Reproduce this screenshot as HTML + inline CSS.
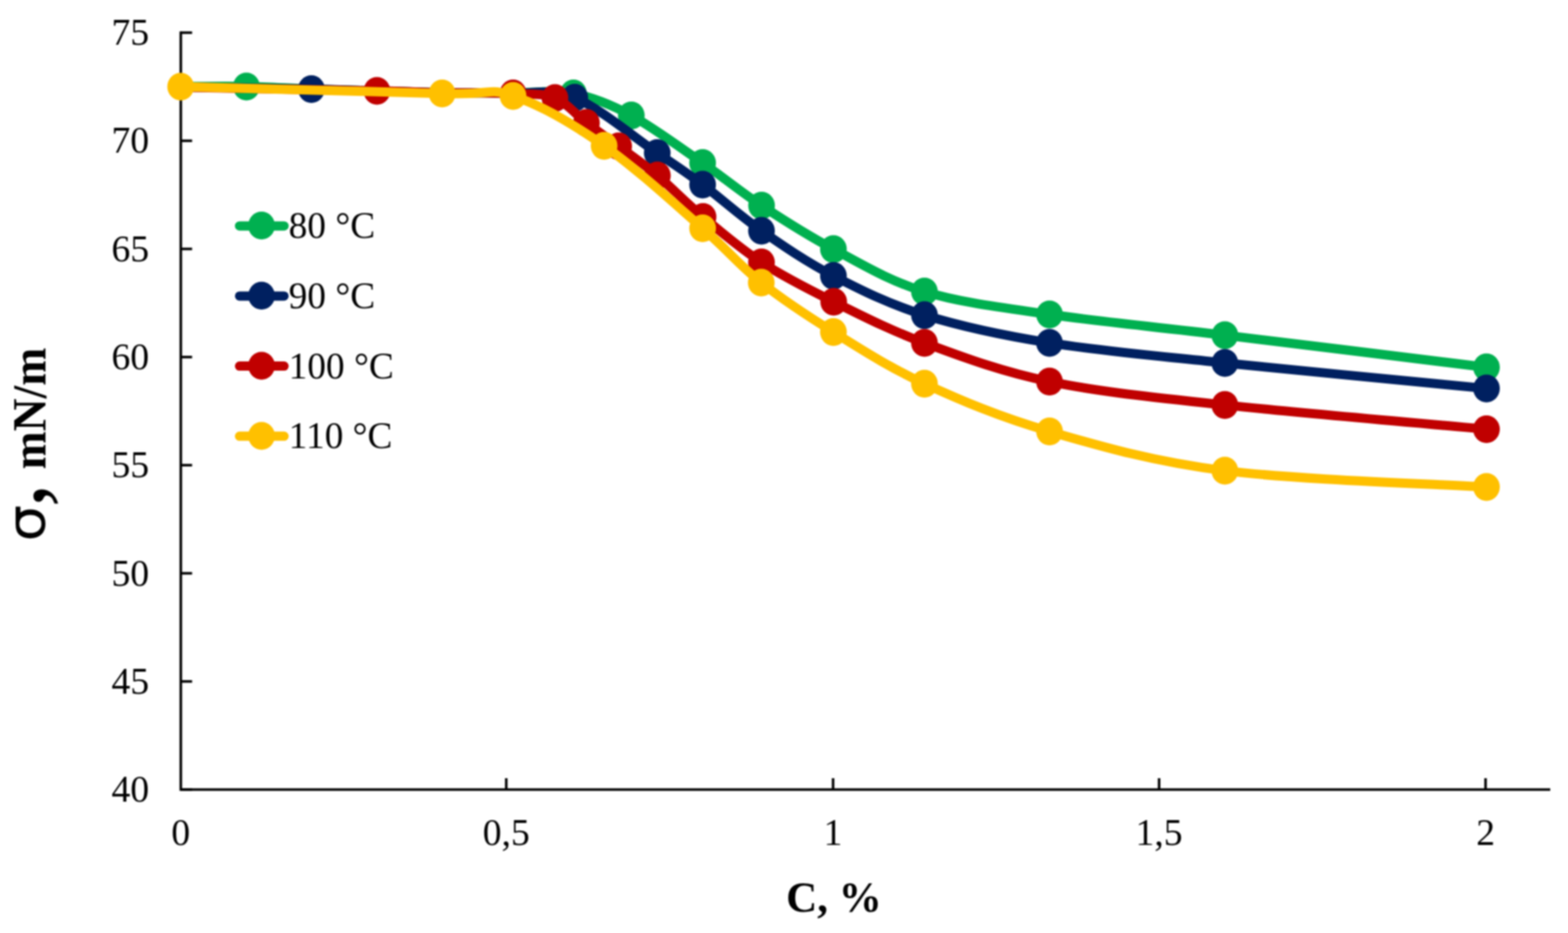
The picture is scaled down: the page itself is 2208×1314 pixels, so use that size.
<!DOCTYPE html>
<html><head><meta charset="utf-8"><style>
html,body{margin:0;padding:0;background:#fff;}
svg{display:block;}
.wrap{filter:blur(1px);}
.t{font-family:"Liberation Serif","Times New Roman",serif;font-size:53px;fill:#000;}
.tb{font-family:"Liberation Serif","Times New Roman",serif;font-weight:bold;fill:#000;}
</style></head><body>
<div class="wrap"><svg width="2208" height="1314" viewBox="0 0 2208 1314">
<rect width="2208" height="1314" fill="#fff"/>
<path d="M254.6,44.2 V1112.0 H2183" fill="none" stroke="#000" stroke-width="3.6"/>
<line x1="254.6" y1="1112.00" x2="270.5" y2="1112.00" stroke="#000" stroke-width="3.6"/>
<text x="210" y="1129.10" text-anchor="end" class="t">40</text>
<line x1="254.6" y1="959.71" x2="270.5" y2="959.71" stroke="#000" stroke-width="3.6"/>
<text x="210" y="976.81" text-anchor="end" class="t">45</text>
<line x1="254.6" y1="807.43" x2="270.5" y2="807.43" stroke="#000" stroke-width="3.6"/>
<text x="210" y="824.53" text-anchor="end" class="t">50</text>
<line x1="254.6" y1="655.14" x2="270.5" y2="655.14" stroke="#000" stroke-width="3.6"/>
<text x="210" y="672.24" text-anchor="end" class="t">55</text>
<line x1="254.6" y1="502.86" x2="270.5" y2="502.86" stroke="#000" stroke-width="3.6"/>
<text x="210" y="519.96" text-anchor="end" class="t">60</text>
<line x1="254.6" y1="350.57" x2="270.5" y2="350.57" stroke="#000" stroke-width="3.6"/>
<text x="210" y="367.67" text-anchor="end" class="t">65</text>
<line x1="254.6" y1="198.29" x2="270.5" y2="198.29" stroke="#000" stroke-width="3.6"/>
<text x="210" y="215.39" text-anchor="end" class="t">70</text>
<line x1="254.6" y1="46.00" x2="270.5" y2="46.00" stroke="#000" stroke-width="3.6"/>
<text x="210" y="63.10" text-anchor="end" class="t">75</text>
<text x="254.60" y="1190" text-anchor="middle" class="t">0</text>
<line x1="712.90" y1="1112.0" x2="712.90" y2="1096" stroke="#000" stroke-width="3.6"/>
<text x="712.90" y="1190" text-anchor="middle" class="t">0,5</text>
<line x1="1173.10" y1="1112.0" x2="1173.10" y2="1096" stroke="#000" stroke-width="3.6"/>
<text x="1173.10" y="1190" text-anchor="middle" class="t">1</text>
<line x1="1632.20" y1="1112.0" x2="1632.20" y2="1096" stroke="#000" stroke-width="3.6"/>
<text x="1632.20" y="1190" text-anchor="middle" class="t">1,5</text>
<line x1="2091.90" y1="1112.0" x2="2091.90" y2="1096" stroke="#000" stroke-width="3.6"/>
<text x="2091.90" y="1190" text-anchor="middle" class="t">2</text>
<path d="M254.50,122.00 C269.92,121.97 316.33,121.22 347.00,121.80 C377.67,122.38 407.87,124.47 438.50,125.50 C469.13,126.53 500.12,127.17 530.80,128.00 C561.48,128.83 590.65,130.05 622.60,130.50 C654.55,130.95 691.68,130.50 722.50,130.70 C753.32,130.90 779.75,126.37 807.50,131.70 C835.25,137.03 858.68,146.40 889.00,162.70 C919.32,179.00 958.83,208.37 989.40,229.50 C1019.97,250.63 1041.70,269.28 1072.40,289.50 C1103.10,309.72 1135.37,330.60 1173.60,350.80 C1211.83,371.00 1251.08,395.37 1301.80,410.70 C1352.52,426.03 1407.40,432.57 1477.90,442.80 C1548.40,453.03 1622.25,459.68 1724.80,472.10 C1827.35,484.52 2031.80,509.77 2093.20,517.30" fill="none" stroke="#00B050" stroke-width="13" stroke-linecap="round" stroke-linejoin="round"/>
<ellipse cx="347" cy="121.8" rx="18.8" ry="19.6" fill="#00B050"/>
<ellipse cx="807.5" cy="131.7" rx="18.8" ry="19.6" fill="#00B050"/>
<ellipse cx="889" cy="162.7" rx="18.8" ry="19.6" fill="#00B050"/>
<ellipse cx="989.4" cy="229.5" rx="18.8" ry="19.6" fill="#00B050"/>
<ellipse cx="1072.4" cy="289.5" rx="18.8" ry="19.6" fill="#00B050"/>
<ellipse cx="1173.6" cy="350.8" rx="18.8" ry="19.6" fill="#00B050"/>
<ellipse cx="1301.8" cy="410.7" rx="18.8" ry="19.6" fill="#00B050"/>
<ellipse cx="1477.9" cy="442.8" rx="18.8" ry="19.6" fill="#00B050"/>
<ellipse cx="1724.8" cy="472.1" rx="18.8" ry="19.6" fill="#00B050"/>
<ellipse cx="2093.2" cy="517.3" rx="18.8" ry="19.6" fill="#00B050"/>
<path d="M254.50,122.50 C285.17,123.00 392.45,124.58 438.50,125.50 C484.55,126.42 500.12,127.17 530.80,128.00 C561.48,128.83 590.65,130.00 622.60,130.50 C654.55,131.00 691.37,129.83 722.50,131.00 C753.63,132.17 775.57,123.42 809.40,137.50 C843.23,151.58 895.50,195.08 925.50,215.50 C955.50,235.92 964.93,241.75 989.40,260.00 C1013.87,278.25 1041.60,303.58 1072.30,325.00 C1103.00,346.42 1135.35,368.70 1173.60,388.50 C1211.85,408.30 1251.08,428.07 1301.80,443.80 C1352.52,459.53 1407.40,471.67 1477.90,482.90 C1548.40,494.13 1622.25,500.50 1724.80,511.20 C1827.35,521.90 2031.80,541.12 2093.20,547.10" fill="none" stroke="#002060" stroke-width="13" stroke-linecap="round" stroke-linejoin="round"/>
<ellipse cx="438.5" cy="125.5" rx="18.8" ry="19.6" fill="#002060"/>
<ellipse cx="809.4" cy="137.5" rx="18.8" ry="19.6" fill="#002060"/>
<ellipse cx="925.5" cy="215.5" rx="18.8" ry="19.6" fill="#002060"/>
<ellipse cx="989.4" cy="260" rx="18.8" ry="19.6" fill="#002060"/>
<ellipse cx="1072.3" cy="325" rx="18.8" ry="19.6" fill="#002060"/>
<ellipse cx="1173.6" cy="388.5" rx="18.8" ry="19.6" fill="#002060"/>
<ellipse cx="1301.8" cy="443.8" rx="18.8" ry="19.6" fill="#002060"/>
<ellipse cx="1477.9" cy="482.9" rx="18.8" ry="19.6" fill="#002060"/>
<ellipse cx="1724.8" cy="511.2" rx="18.8" ry="19.6" fill="#002060"/>
<ellipse cx="2093.2" cy="547.1" rx="18.8" ry="19.6" fill="#002060"/>
<path d="M254.50,122.80 C300.55,123.67 469.45,126.72 530.80,128.00 C592.15,129.28 590.65,129.90 622.60,130.50 C654.55,131.10 696.02,130.35 722.50,131.60 C748.98,132.85 764.28,131.10 781.50,138.00 C798.72,144.90 810.85,161.67 825.80,173.00 C840.75,184.33 854.55,193.63 871.20,206.00 C887.85,218.37 905.90,230.62 925.70,247.20 C945.50,263.78 965.57,285.12 990.00,305.50 C1014.43,325.88 1041.63,349.58 1072.30,369.50 C1102.97,389.42 1135.75,406.10 1174.00,425.00 C1212.25,443.90 1251.15,464.17 1301.80,482.90 C1352.45,501.63 1407.40,522.82 1477.90,537.40 C1548.40,551.98 1622.25,559.22 1724.80,570.40 C1827.35,581.58 2031.80,598.82 2093.20,604.50" fill="none" stroke="#C00000" stroke-width="13" stroke-linecap="round" stroke-linejoin="round"/>
<ellipse cx="530.8" cy="128" rx="18.8" ry="19.6" fill="#C00000"/>
<ellipse cx="722.5" cy="131.6" rx="18.8" ry="19.6" fill="#C00000"/>
<ellipse cx="781.5" cy="138" rx="18.8" ry="19.6" fill="#C00000"/>
<ellipse cx="825.8" cy="173" rx="18.8" ry="19.6" fill="#C00000"/>
<ellipse cx="871.2" cy="206" rx="18.8" ry="19.6" fill="#C00000"/>
<ellipse cx="925.7" cy="247.2" rx="18.8" ry="19.6" fill="#C00000"/>
<ellipse cx="990" cy="305.5" rx="18.8" ry="19.6" fill="#C00000"/>
<ellipse cx="1072.3" cy="369.5" rx="18.8" ry="19.6" fill="#C00000"/>
<ellipse cx="1174" cy="425" rx="18.8" ry="19.6" fill="#C00000"/>
<ellipse cx="1301.8" cy="482.9" rx="18.8" ry="19.6" fill="#C00000"/>
<ellipse cx="1477.9" cy="537.4" rx="18.8" ry="19.6" fill="#C00000"/>
<ellipse cx="1724.8" cy="570.4" rx="18.8" ry="19.6" fill="#C00000"/>
<ellipse cx="2093.2" cy="604.5" rx="18.8" ry="19.6" fill="#C00000"/>
<path d="M254.40,122.00 C315.77,123.62 544.58,129.50 622.60,131.70 C700.62,133.90 684.48,122.93 722.50,135.20 C760.52,147.47 806.22,174.25 850.70,205.30 C895.18,236.35 952.52,289.38 989.40,321.50 C1026.28,353.62 1041.30,373.65 1072.00,398.00 C1102.70,422.35 1135.30,443.88 1173.60,467.60 C1211.90,491.32 1251.08,516.97 1301.80,540.30 C1352.52,563.63 1407.40,587.17 1477.90,607.60 C1548.40,628.03 1622.25,649.87 1724.80,662.90 C1827.35,675.93 2031.80,681.98 2093.20,685.80" fill="none" stroke="#FFC000" stroke-width="13" stroke-linecap="round" stroke-linejoin="round"/>
<ellipse cx="254.4" cy="122" rx="18.8" ry="19.6" fill="#FFC000"/>
<ellipse cx="622.6" cy="131.7" rx="18.8" ry="19.6" fill="#FFC000"/>
<ellipse cx="722.5" cy="135.2" rx="18.8" ry="19.6" fill="#FFC000"/>
<ellipse cx="850.7" cy="205.3" rx="18.8" ry="19.6" fill="#FFC000"/>
<ellipse cx="989.4" cy="321.5" rx="18.8" ry="19.6" fill="#FFC000"/>
<ellipse cx="1072" cy="398" rx="18.8" ry="19.6" fill="#FFC000"/>
<ellipse cx="1173.6" cy="467.6" rx="18.8" ry="19.6" fill="#FFC000"/>
<ellipse cx="1301.8" cy="540.3" rx="18.8" ry="19.6" fill="#FFC000"/>
<ellipse cx="1477.9" cy="607.6" rx="18.8" ry="19.6" fill="#FFC000"/>
<ellipse cx="1724.8" cy="662.9" rx="18.8" ry="19.6" fill="#FFC000"/>
<ellipse cx="2093.2" cy="685.8" rx="18.8" ry="19.6" fill="#FFC000"/>
<line x1="337.3" y1="318.20" x2="400" y2="318.20" stroke="#00B050" stroke-width="13" stroke-linecap="round"/>
<ellipse cx="368.3" cy="317.70" rx="18.8" ry="19.6" fill="#00B050"/>
<text x="406.6" y="335.30" class="t" style="font-size:52.5px">80 °C</text>
<line x1="337.3" y1="416.90" x2="400" y2="416.90" stroke="#002060" stroke-width="13" stroke-linecap="round"/>
<ellipse cx="368.3" cy="416.40" rx="18.8" ry="19.6" fill="#002060"/>
<text x="406.6" y="434.00" class="t" style="font-size:52.5px">90 °C</text>
<line x1="337.3" y1="515.60" x2="400" y2="515.60" stroke="#C00000" stroke-width="13" stroke-linecap="round"/>
<ellipse cx="368.3" cy="515.10" rx="18.8" ry="19.6" fill="#C00000"/>
<text x="406.6" y="532.70" class="t" style="font-size:52.5px">100 °C</text>
<line x1="337.3" y1="614.30" x2="400" y2="614.30" stroke="#FFC000" stroke-width="13" stroke-linecap="round"/>
<ellipse cx="368.3" cy="613.80" rx="18.8" ry="19.6" fill="#FFC000"/>
<text x="406.6" y="631.40" class="t" style="font-size:52.5px">110 °C</text>
<text x="1106.9" y="1283.8" class="tb" style="font-size:60.7px">C, %</text>
<text transform="translate(63.6,661.1) rotate(-90) scale(0.952,1)" class="tb" style="font-size:67.5px">mN/m</text>
<text transform="translate(61,714.5) rotate(-90)" class="t" style="font-size:135px">,</text>
<text transform="translate(63.4,762.8) rotate(-90) scale(1.091,1)" style="font-family:'DejaVu Sans',sans-serif;font-size:74.6px;fill:#000">σ</text>
</svg></div>
</body></html>
